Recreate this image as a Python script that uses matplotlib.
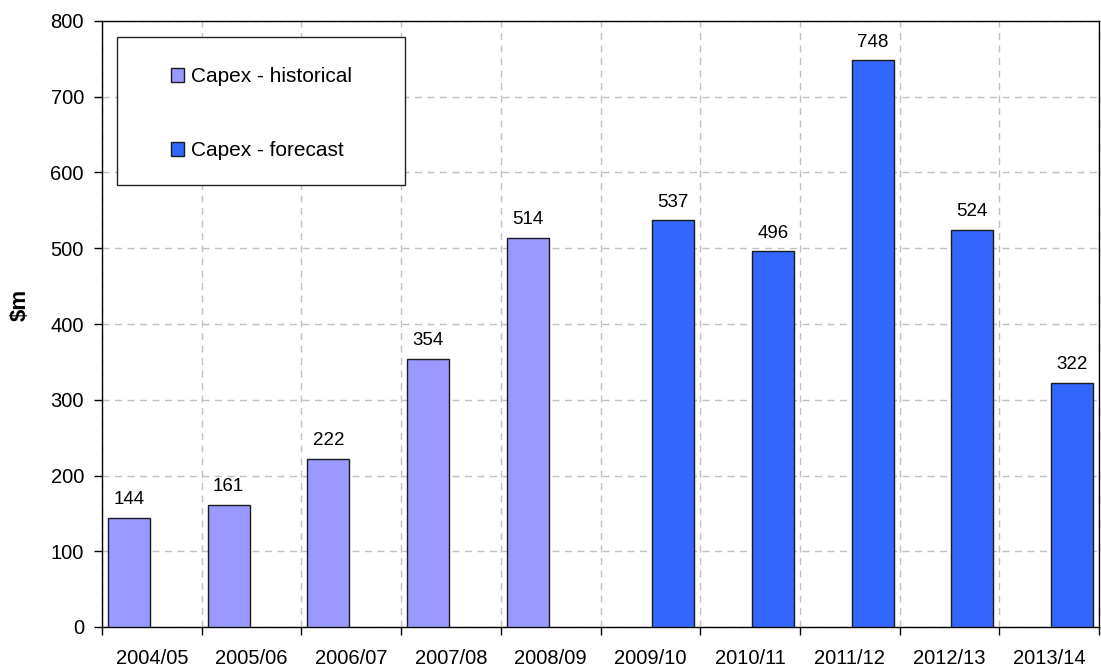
import numpy as np
import matplotlib
matplotlib.use('Agg')
import matplotlib.pyplot as plt
from matplotlib.patches import Rectangle

plt.rcParams['font.family'] = ['Liberation Sans', 'DejaVu Sans']

# Data
years = ['2004/05', '2005/06', '2006/07', '2007/08', '2008/09',
         '2009/10', '2010/11', '2011/12', '2012/13', '2013/14']
capex_hist = [144, 161, 222, 354, 514, None, None, None, None, None]
capex_fcst = [None, None, None, None, None, 537, 496, 748, 524, 322]

hist_color = '#9999FF'
fcst_color = '#3366FF'

fig = plt.figure(figsize=(11.01, 6.66), dpi=100)
ax = fig.add_axes([102 / 1101, 1 - 627 / 666, 997 / 1101, 606 / 666])

x = np.arange(len(years))
bar_w = 0.42

for i, v in enumerate(capex_hist):
    if v is None:
        continue
    ax.bar(x[i] + 0.06, v, width=bar_w, align='edge', color=hist_color,
           edgecolor='#1a1a1a', linewidth=1.0, zorder=3)
    ax.annotate(str(v), (x[i] + 0.06 + bar_w / 2, v), xytext=(0, 7),
                textcoords='offset points', ha='center', va='bottom', fontsize=13.5)

for i, v in enumerate(capex_fcst):
    if v is None:
        continue
    ax.bar(x[i] + 0.52, v, width=bar_w, align='edge', color=fcst_color,
           edgecolor='#1a1a1a', linewidth=1.0, zorder=3)
    ax.annotate(str(v), (x[i] + 0.52 + bar_w / 2, v), xytext=(0, 7),
                textcoords='offset points', ha='center', va='bottom', fontsize=13.5)

ax.set_xlim(0, len(years))
ax.set_ylim(0, 800)
ax.set_yticks(np.arange(0, 801, 100))

# category boundaries as major ticks, labels at centres
ax.set_xticks(np.arange(0, len(years) + 1))
ax.set_xticklabels([])
ax.set_xticks(x + 0.5, minor=True)
ax.set_xticklabels(years, minor=True)
ax.tick_params(axis='x', which='major', direction='out', length=6, width=1)
ax.tick_params(axis='x', which='minor', length=0, pad=16, labelsize=14.5)
ax.tick_params(axis='y', direction='out', length=6, width=1, pad=7, labelsize=14.5)

ax.grid(True, which='major', color='#c0c0c0', linestyle=(0, (5, 4)), linewidth=1.0, zorder=0)
ax.set_axisbelow(True)

for s in ax.spines.values():
    s.set_color('black')
    s.set_linewidth(1.0)

ax.set_ylabel('$m', fontsize=16, fontweight='bold')
ax.yaxis.set_label_coords(-0.071, 0.531)

# legend box
ax.add_patch(Rectangle((0.015, 0.729), 0.289, 0.245, transform=ax.transAxes,
                       facecolor='white', edgecolor='#222222', linewidth=1.0, zorder=5))
h1 = Rectangle((0, 0), 1, 1, facecolor=hist_color, edgecolor='#1a1a1a', linewidth=1.0)
h2 = Rectangle((0, 0), 1, 1, facecolor=fcst_color, edgecolor='#1a1a1a', linewidth=1.0)
leg = ax.legend([h1, h2], ['Capex - historical', 'Capex - forecast'],
                loc='upper left', bbox_to_anchor=(0.069, 0.924), frameon=False,
                fontsize=15, handlelength=0.65, handleheight=0.65, handletextpad=0.3,
                labelspacing=2.65, borderpad=0, borderaxespad=0)
leg.set_zorder(6)

plt.savefig('out.png', dpi=100)
